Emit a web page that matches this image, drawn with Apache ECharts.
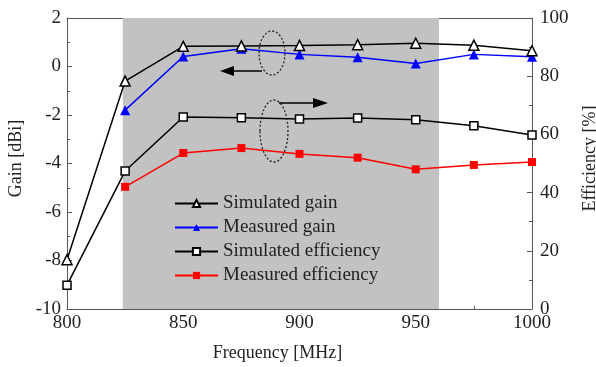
<!DOCTYPE html>
<html><head><meta charset="utf-8">
<script src="https://cdn.jsdelivr.net/npm/echarts@6/dist/echarts.min.js"></script>
<style>html,body{margin:0;padding:0;background:#fff}#c{width:596px;height:367px}</style>
</head><body><div id="c"></div>
<script>
const freq = [800, 825, 850, 875, 900, 925, 950, 975, 1000];
const simGain = [-7.97, -0.6, 0.83, 0.85, 0.87, 0.9, 0.96, 0.88, 0.65];
const measGain = [null, -1.8, 0.41, 0.73, 0.5, 0.38, 0.12, 0.5, 0.4];
const simEff = [8.2, 47.4, 66, 65.7, 65.3, 65.6, 65, 63, 59.8];
const measEff = [null, 42, 53.6, 55.3, 53.3, 52, 48, 49.5, 50.5];
const seriesNames = ['Simulated gain', 'Measured gain', 'Simulated efficiency', 'Measured efficiency'];
const shadeBand = [824, 960];

const FONT = 'Liberation Serif';
const pair = (ys) => freq.map((f, i) => [f, ys[i]]);
const chart = echarts.init(document.getElementById('c'), null, {renderer: 'canvas'});
const axisLabel = {fontFamily: FONT, fontSize: 19, color: '#222', formatter: (v) => String(v)};
const nameStyle = {fontFamily: FONT, fontSize: 18, color: '#222'};
const axLine = {show: true, onZero: false, lineStyle: {color: '#555', width: 1}};
chart.setOption({
  animation: false,
  backgroundColor: '#fff',
  grid: {left: 67, right: 64, top: 18, bottom: 58, show: false, containLabel: false, outerBoundsMode: 'none'},
  legend: {
    orient: 'vertical', left: 174, top: 194, padding: 0, itemWidth: 43, itemHeight: 9, itemGap: 5,
    textStyle: {fontFamily: FONT, fontSize: 19, color: '#222', lineHeight: 19},
    data: seriesNames
  },
  xAxis: [{
    type: 'value', min: 800, max: 1000, interval: 50,
    name: 'Frequency [MHz]', nameLocation: 'middle', nameGap: 35,
    nameTextStyle: Object.assign({padding: [0, 44, 0, 0]}, nameStyle),
    axisLine: axLine,
    axisTick: {show: true, inside: true, length: 5, lineStyle: {color: '#555'}},
    minorTick: {show: true, splitNumber: 2, length: 3, lineStyle: {color: '#555'}},
    splitLine: {show: false},
    axisLabel: Object.assign({margin: 5}, axisLabel)
  }, {
    type: 'value', min: 800, max: 1000, position: 'top',
    axisLine: axLine,
    axisTick: {show: false}, axisLabel: {show: false}, splitLine: {show: false}
  }],
  yAxis: [{
    type: 'value', min: -10, max: 2, interval: 2,
    name: 'Gain [dBi]', nameLocation: 'middle', nameGap: 41, nameRotate: 90,
    nameTextStyle: Object.assign({padding: [0, 0, 0, 10]}, nameStyle),
    axisLine: axLine,
    axisTick: {show: true, inside: true, length: 5, lineStyle: {color: '#555'}},
    minorTick: {show: true, splitNumber: 2, length: 3, lineStyle: {color: '#555'}},
    splitLine: {show: false},
    axisLabel: Object.assign({margin: 6}, axisLabel)
  }, {
    type: 'value', min: 0, max: 100, interval: 20, position: 'right',
    name: 'Efficiency [%]', nameLocation: 'middle', nameGap: 49, nameRotate: 90,
    nameTextStyle: Object.assign({padding: [0, 0, 0, 10]}, nameStyle),
    axisLine: axLine,
    axisTick: {show: true, inside: true, length: 5, lineStyle: {color: '#555'}},
    minorTick: {show: true, splitNumber: 2, length: 3, lineStyle: {color: '#555'}},
    splitLine: {show: false},
    axisLabel: Object.assign({margin: 8}, axisLabel)
  }],
  series: [{
    name: seriesNames[0], type: 'line', yAxisIndex: 0, data: pair(simGain),
    symbol: 'triangle', symbolSize: 10, lineStyle: {color: '#000', width: 1.5},
    itemStyle: {color: '#fff', borderColor: '#000', borderWidth: 1.5}, color: '#000',
    z: 5,
    markArea: {silent: true, itemStyle: {color: '#c2c2c2'},
      data: [[{xAxis: shadeBand[0]}, {xAxis: shadeBand[1]}]]}
  }, {
    name: seriesNames[1], type: 'line', yAxisIndex: 0, data: pair(measGain),
    symbol: 'triangle', symbolSize: 10, lineStyle: {color: '#0000ff', width: 1.5},
    itemStyle: {color: '#0000ff'}, color: '#0000ff', z: 4
  }, {
    name: seriesNames[2], type: 'line', yAxisIndex: 1, data: pair(simEff),
    symbol: 'rect', symbolSize: 8, lineStyle: {color: '#000', width: 1.5},
    itemStyle: {color: '#fff', borderColor: '#000', borderWidth: 1.5}, color: '#000', z: 4
  }, {
    name: seriesNames[3], type: 'line', yAxisIndex: 1, data: pair(measEff),
    symbol: 'rect', symbolSize: 8, lineStyle: {color: '#ff0000', width: 1.5},
    itemStyle: {color: '#ff0000'}, color: '#ff0000', z: 4
  }],
  graphic: [
    {type: 'ellipse', shape: {cx: 272, cy: 53, rx: 13, ry: 22}, style: {fill: null, stroke: '#222', lineWidth: 1.3, lineDash: [2, 2]}, z: 100},
    {type: 'line', shape: {x1: 262, y1: 71, x2: 232, y2: 71}, style: {stroke: '#000', lineWidth: 1.5}, z: 100},
    {type: 'polygon', shape: {points: [[220, 71], [234, 66], [234, 76]]}, style: {fill: '#000'}, z: 100},
    {type: 'ellipse', shape: {cx: 274, cy: 131, rx: 14, ry: 31}, style: {fill: null, stroke: '#222', lineWidth: 1.3, lineDash: [2, 2]}, z: 100},
    {type: 'line', shape: {x1: 279, y1: 103, x2: 315, y2: 103}, style: {stroke: '#000', lineWidth: 1.5}, z: 100},
    {type: 'polygon', shape: {points: [[328, 103], [313, 98], [313, 108]]}, style: {fill: '#000'}, z: 100}
  ]
});
</script></body></html>
